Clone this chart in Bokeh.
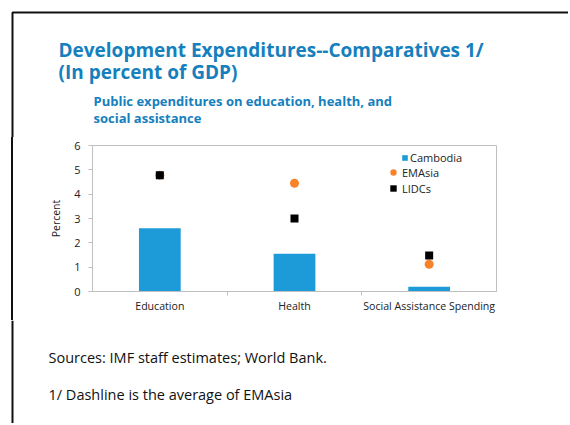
from bokeh.plotting import figure
from bokeh.layouts import column, row
from bokeh.models import (Range1d, FixedTicker, Label, Legend, LegendItem,
                          BoxAnnotation, Span, ColumnDataSource, Div)
from bokeh.embed import file_html
from bokeh.resources import INLINE

categories = ["Education", "Health", "Social Assistance Spending"]
cambodia = [2.6, 1.55, 0.2]
emasia = [4.78, 4.45, 1.12]
lidcs = [4.78, 3.0, 1.48]
y_ticks = [0, 1, 2, 3, 4, 5, 6]

TITLE_COLOR = "#1580bd"
BAR_COLOR = "#1d9bd8"
ORANGE = "#f7832b"
GREY = "#bfbfbf"
FONT = "Open Sans"
EDGE = "#111111"

TOTAL_W = 568
HEAD_H = 137
CHART_H = 183
FOOT_H = 103
STRIP_W = 20


def blank(w, h):
    f = figure(width=w, height=h, output_backend="svg", toolbar_location=None,
               x_range=Range1d(0, w), y_range=Range1d(h, 0),
               x_axis_type=None, y_axis_type=None, min_border=0)
    f.outline_line_color = None
    f.grid.visible = False
    f.background_fill_color = "white"
    f.border_fill_color = "white"
    return f


def add_text(f, txt, x, y, size, bold=False, color="#111111"):
    f.add_layout(Label(x=x, y=y, text=txt, text_font=FONT, text_font_size=size,
                       text_font_style="bold" if bold else "normal",
                       text_color=color, text_baseline="alphabetic"))


# ---------- header ----------
head = blank(TOTAL_W, HEAD_H)
head.add_layout(BoxAnnotation(left=12, right=TOTAL_W + 20, top=12,
                              bottom=HEAD_H + 20, fill_alpha=0,
                              line_color=EDGE, line_alpha=1, line_width=2))
add_text(head, "Development Expenditures--Comparatives 1/", 58, 49, "19px", True, TITLE_COLOR)
add_text(head, "(In percent of GDP)", 58, 71, "19px", True, TITLE_COLOR)
add_text(head, "Public expenditures on education, health, and", 93, 100, "13px", True, TITLE_COLOR)
add_text(head, "social assistance", 93, 117, "13px", True, TITLE_COLOR)

# ---------- left strip (frame line only) ----------
strip = Div(width=STRIP_W, height=CHART_H, margin=0,
            text='<div style="margin-left:11px;width:2px;height:%dpx;'
                 'background:%s"></div>' % (CHART_H, EDGE))

# ---------- chart ----------
xpos = [i + 0.5 for i in range(len(categories))]
src = ColumnDataSource(dict(x=xpos, cam=cambodia, ema=emasia, lid=lidcs))

CW = TOTAL_W - STRIP_W
p = figure(width=CW, height=CHART_H, output_backend="svg", toolbar_location=None,
           x_range=Range1d(0, len(categories)), y_range=Range1d(0, 6),
           min_border_left=72, min_border_right=72, min_border_top=8,
           min_border_bottom=29)
p.background_fill_color = "white"
p.border_fill_color = "white"
p.outline_line_color = GREY
p.grid.visible = False

bars = p.vbar(x="x", top="cam", width=0.31, source=src, fill_color=BAR_COLOR,
              line_color=None)
ema_r = p.scatter(x="x", y="ema", source=src, marker="circle", size=9,
                  fill_color=ORANGE, line_color=None)
lid_r = p.scatter(x="x", y="lid", source=src, marker="square", size=8,
                  fill_color="black", line_color=None)

xa = p.xaxis[0]
xa.ticker = FixedTicker(ticks=xpos, minor_ticks=list(range(1, len(categories))))
xa.major_label_overrides = {x: c for x, c in zip(xpos, categories)}
xa.major_tick_out = 0
xa.major_tick_in = 0
xa.minor_tick_out = 4
xa.minor_tick_in = 0
xa.minor_tick_line_color = GREY
xa.axis_line_color = GREY
xa.major_label_text_font = FONT
xa.major_label_text_font_size = "10.6px"
xa.major_label_text_color = "#222222"
xa.major_label_standoff = 3

ya = p.yaxis[0]
ya.ticker = FixedTicker(ticks=y_ticks)
ya.minor_tick_line_color = None
ya.major_tick_out = 4
ya.major_tick_in = 0
ya.major_tick_line_color = GREY
ya.axis_line_color = GREY
ya.major_label_text_font = FONT
ya.major_label_text_font_size = "11px"
ya.major_label_text_color = "#222222"
ya.major_label_standoff = 8
ya.axis_label = "Percent"
ya.axis_label_text_font = FONT
ya.axis_label_text_font_size = "10.5px"
ya.axis_label_text_font_style = "normal"
ya.axis_label_text_color = "#222222"
ya.axis_label_standoff = 8

# legend locations: bottom-left corner, px from the frame's bottom-left
leg1 = Legend(items=[LegendItem(label="Cambodia", renderers=[bars])],
              location=(309, 126), glyph_width=7, glyph_height=7,
              label_standoff=2, padding=0, margin=0, spacing=0,
              label_height=13, border_line_color=None,
              background_fill_alpha=0, label_text_font=FONT,
              label_text_font_size="11px", label_text_color="#222222")
leg2 = Legend(items=[LegendItem(label="EMAsia", renderers=[ema_r]),
                     LegendItem(label="LIDCs", renderers=[lid_r])],
              location=(293, 95), glyph_width=16, glyph_height=16,
              label_standoff=1, padding=0, margin=0, spacing=0,
              label_height=13, border_line_color=None,
              background_fill_alpha=0, label_text_font=FONT,
              label_text_font_size="11px", label_text_color="#222222")
p.add_layout(leg1)
p.add_layout(leg2)

# ---------- footer ----------
foot = blank(TOTAL_W, FOOT_H)
foot.add_layout(Span(location=12, dimension="height", line_color=EDGE,
                     line_width=2, line_alpha=1))
add_text(foot, "Sources: IMF staff estimates; World Bank.", 48, 37, "14.5px")
add_text(foot, "1/ Dashline is the average of EMAsia", 48, 74, "14.5px")

layout = column(head, row(strip, p), foot)
open("out.html", "w").write(file_html(layout, INLINE))
